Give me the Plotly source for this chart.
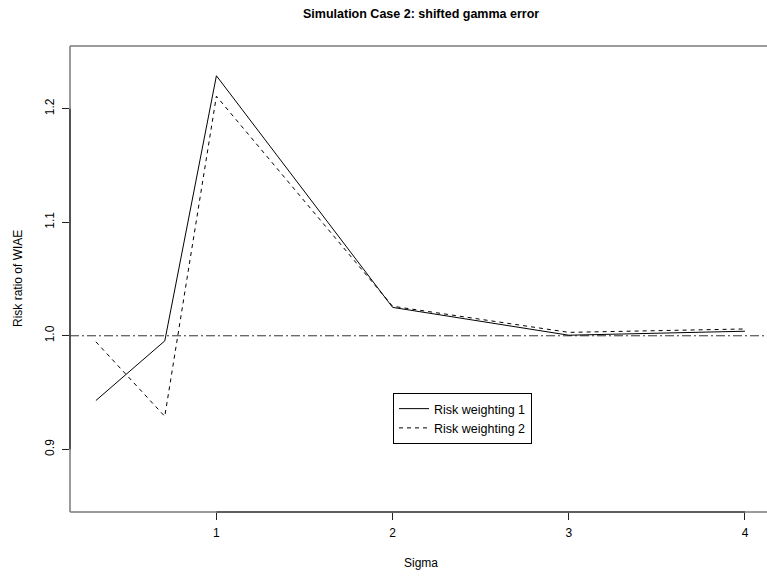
import numpy as np
import plotly.graph_objects as go

# Data
sigma = [0.316, 0.707, 1, 2, 3, 4]
risk_w1 = [0.943, 0.9955, 1.229, 1.025, 1.0005, 1.004]
risk_w2 = [0.9947, 0.929, 1.211, 1.026, 1.003, 1.006]
x_ticks = [1, 2, 3, 4]
y_ticks = [0.9, 1.0, 1.1, 1.2]
y_tick_labels = ["0.9", "1.0", "1.1", "1.2"]

FONT = "Liberation Sans, Arial, Helvetica, sans-serif"

fig = go.Figure()
fig.add_trace(go.Scatter(x=sigma, y=risk_w1, mode="lines", name="Risk weighting 1",
                         line=dict(color="black", width=1)))
fig.add_trace(go.Scatter(x=sigma, y=risk_w2, mode="lines", name="Risk weighting 2",
                         line=dict(color="black", width=1, dash="4px,4px")))

# reference line at 1
fig.add_shape(type="line", xref="paper", yref="y", x0=0, x1=1, y0=1, y1=1,
              line=dict(color="#333", width=1, dash="9px,3px,2px,3px"), layer="below")

# box (left, top, bottom)
box_col = "#7a7a7a"
for (x0, y0, x1, y1) in [(0, 0, 0, 1), (0, 1, 1, 1), (0, 0, 1, 0)]:
    fig.add_shape(type="line", xref="paper", yref="paper", x0=x0, y0=y0, x1=x1, y1=y1,
                  line=dict(color=box_col, width=1.5))
# axis spans
fig.add_shape(type="line", xref="x", yref="paper", x0=x_ticks[0], x1=x_ticks[-1], y0=0, y1=0,
              line=dict(color="#222", width=1.2))
fig.add_shape(type="line", xref="paper", yref="y", x0=0, x1=0, y0=y_ticks[0], y1=y_ticks[-1],
              line=dict(color="#222", width=1.2))

fig.update_layout(
    width=767, height=578,
    margin=dict(l=70, r=0, t=46, b=66),
    plot_bgcolor="white", paper_bgcolor="white",
    font=dict(family=FONT, size=12, color="black"),
    showlegend=True,
    legend=dict(x=(393 - 70) / 697, y=(512 - 393) / 466, xanchor="left", yanchor="top",
                bordercolor="black", borderwidth=1, bgcolor="white",
                font=dict(family=FONT, size=12.5), tracegroupgap=0),
    xaxis=dict(range=[0.169, 4.125], showgrid=False, zeroline=False, showline=False,
               tickmode="array", tickvals=x_ticks, ticks="outside", ticklen=7,
               tickcolor="#222", tickwidth=1, tickfont=dict(size=12),
               ticklabelstandoff=3),
    yaxis=dict(range=[0.8448, 1.2552], showgrid=False, zeroline=False, showline=False,
               tickmode="array", tickvals=y_ticks, ticktext=y_tick_labels,
               ticks="outside", ticklen=7, tickcolor="#222", tickwidth=1,
               tickangle=-90, tickfont=dict(size=12), ticklabelstandoff=3),
    annotations=[
        dict(text="<b>Simulation Case 2: shifted gamma error</b>", xref="paper", yref="paper",
             x=(420.5 - 70) / 697, y=1, yshift=32, xanchor="center", yanchor="middle",
             showarrow=False, font=dict(size=12.5)),
        dict(text="Sigma", xref="paper", yref="paper", x=(420.5 - 70) / 697, y=0,
             yshift=-51, xanchor="center", yanchor="middle", showarrow=False,
             font=dict(size=12)),
        dict(text="Risk ratio of WIAE", xref="paper", yref="paper", x=0, xshift=-52,
             y=(512 - 279) / 466, xanchor="center", yanchor="middle", textangle=-90,
             showarrow=False, font=dict(size=12)),
    ],
)

fig.write_html("out.html")
